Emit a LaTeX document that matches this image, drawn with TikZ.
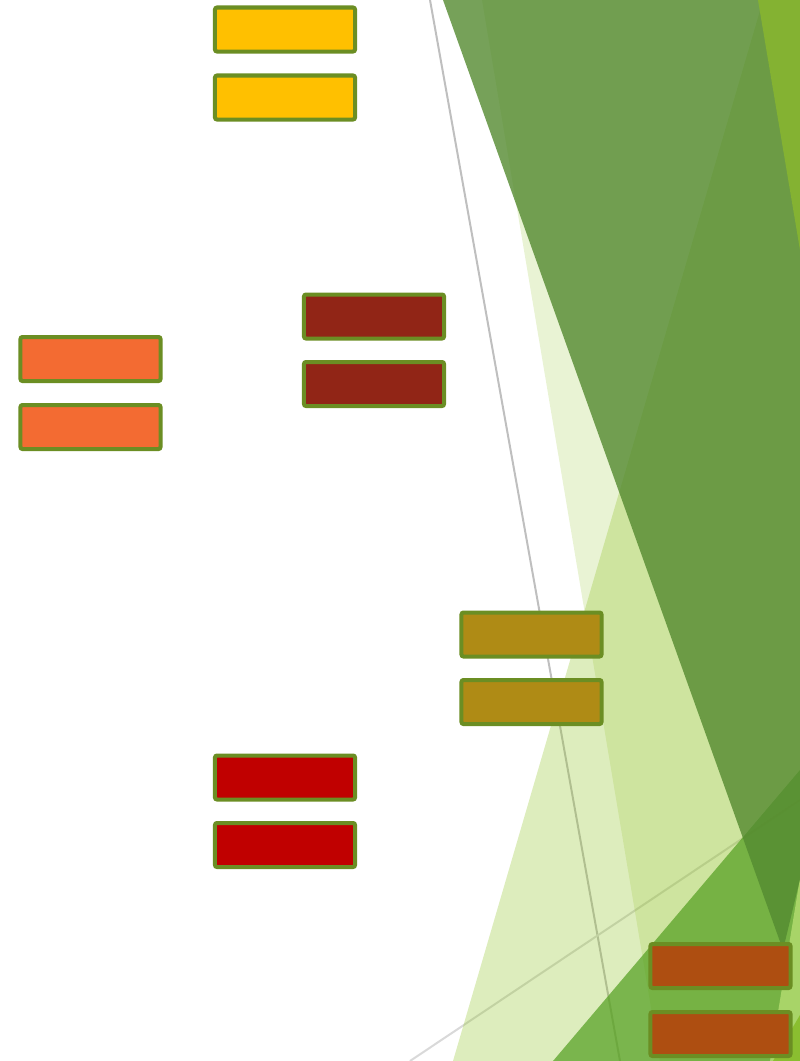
\documentclass[tikz,border=0pt]{standalone}
\definecolor{borderolive}{HTML}{6B8E23}
\definecolor{facetlight}{HTML}{90C226}
\definecolor{facetmid}{HTML}{54A021}
\definecolor{facetdark}{HTML}{548A30}
\definecolor{facetlime}{HTML}{84B232}
\definecolor{facetpale}{HTML}{A8D468}
\definecolor{facetcorner}{HTML}{8ABE30}
\definecolor{slotyellow}{HTML}{FFC000}
\definecolor{slotorange}{HTML}{F36B32}
\definecolor{slotmaroon}{HTML}{912516}
\definecolor{slotolive}{HTML}{AF8B15}
\definecolor{slotred}{HTML}{C00000}
\definecolor{slotrust}{HTML}{AE4E11}
\begin{document}
\begin{tikzpicture}[x=0.025cm, y=-0.025cm,
  slot/.style={draw=borderolive, line width=0.1cm, rounded corners=0.05cm,
    minimum width=3.5cm, minimum height=1.1cm, inner sep=0pt}]
  \useasboundingbox (0,0) rectangle (800,1061);
  \begin{scope}
    \clip (0,0) rectangle (800,1061);
    % Thin guide lines
    \draw[line width=0.05cm, gray!50] (430,0) -- (620,1061);
    \draw[line width=0.05cm, gray!30] (410,1061) -- (800,800);
    % Pale facet
    \fill[facetlight, opacity=0.2] (482,0) -- (800,0) -- (800,1061) -- (660,1061) -- cycle;
    % Light facet
    \fill[facetlight, opacity=0.3] (763,0) -- (800,0) -- (800,1061) -- (453,1061) -- cycle;
    % Bright facet at the bottom
    \fill[facetmid, opacity=0.72] (553,1061) -- (800,770) -- (800,1061) -- cycle;
    % Corner slivers
    \fill[facetpale] (770,1061) -- (800,878) -- (800,1061) -- cycle;
    \fill[facetcorner] (773,1061) -- (800,1015) -- (800,1061) -- cycle;
    % Dark facet
    \fill[facetdark, opacity=0.8] (443,0) -- (1011,0) -- (783,950) -- cycle;
    % Top right strip
    \fill[facetlime] (758,0) -- (800,0) -- (800,250) -- cycle;
  \end{scope}
  % Yellow pair
  \node[slot, fill=slotyellow] (yellowA) at (285,29.5) {};
  \node[slot, fill=slotyellow] (yellowB) at (285,97.5) {};
  % Orange pair
  \node[slot, fill=slotorange] (orangeA) at (90.5,359) {};
  \node[slot, fill=slotorange] (orangeB) at (90.5,427) {};
  % Maroon pair
  \node[slot, fill=slotmaroon] (maroonA) at (374,316.5) {};
  \node[slot, fill=slotmaroon] (maroonB) at (374,384) {};
  % Olive pair
  \node[slot, fill=slotolive] (oliveA) at (531.5,634.5) {};
  \node[slot, fill=slotolive] (oliveB) at (531.5,702) {};
  % Red pair
  \node[slot, fill=slotred] (redA) at (285,777.5) {};
  \node[slot, fill=slotred] (redB) at (285,845) {};
  % Rust pair
  \node[slot, fill=slotrust] (rustA) at (720.5,966) {};
  \node[slot, fill=slotrust] (rustB) at (720.5,1034) {};
\end{tikzpicture}
\end{document}
